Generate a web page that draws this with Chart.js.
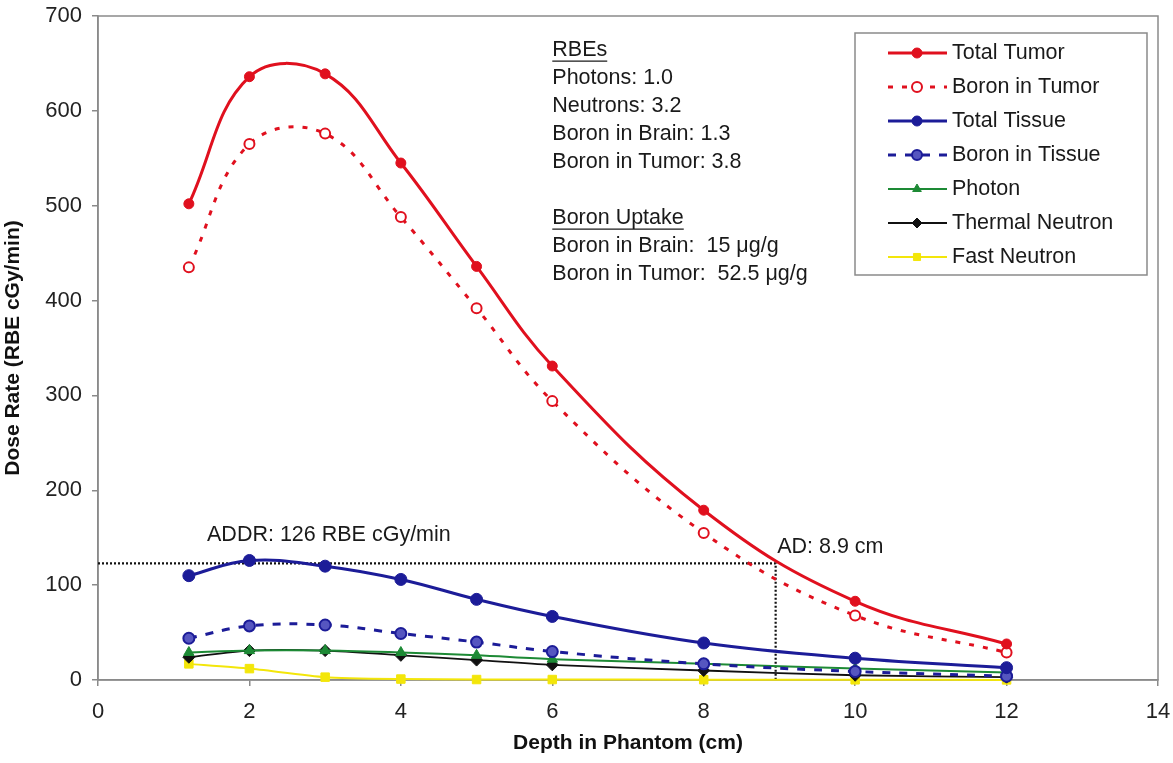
<!DOCTYPE html>
<html>
<head>
<meta charset="utf-8">
<script src="https://cdn.jsdelivr.net/npm/chart.js@4.4.1/dist/chart.umd.min.js"></script>
<style>
  html, body { margin: 0; padding: 0; background: #fff; }
</style>
</head>
<body>
<canvas id="doseChart" width="1173" height="763"></canvas>
<script>
// depth in phantom (cm)
const depth = [1.2, 2, 3, 4, 5, 6, 8, 10, 12];

// dose rates (RBE cGy/min)
const totalTumor    = [502, 636, 639, 545, 436, 331, 179, 83, 38];
const boronTumor    = [435, 565, 576, 488, 392, 294, 155, 68, 29];
const totalTissue   = [110, 126, 120, 106, 85, 67, 39, 23, 13];
const boronTissue   = [44, 57, 58, 49, 40, 30, 17, 9, 4];
const photon        = [29, 31, 31, 29, 26, 22, 17, 12, 8];
const thermal       = [24, 31, 31, 26, 21, 16, 10, 5, 3];
const fastNeutron   = [17, 12, 3, 1, 0.5, 0.5, 0.3, 0.2, 0.1];

// advantage depth / advantage depth dose rate guide lines
const guideX = [0, 8.95, 8.95];
const guideY = [123, 123, 0];

const xTicks = [0, 2, 4, 6, 8, 10, 12, 14];
const yTicks = [0, 100, 200, 300, 400, 500, 600, 700];

const rbeLines = ['RBEs', 'Photons: 1.0', 'Neutrons: 3.2', 'Boron in Brain: 1.3', 'Boron in Tumor: 3.8', '',
                  'Boron Uptake', 'Boron in Brain:  15 \u03BCg/g', 'Boron in Tumor:  52.5 \u03BCg/g'];
const underlined = ['RBEs', 'Boron Uptake'];
const rbeAnchor = [6.0, 664];
const addrText = 'ADDR: 126 RBE cGy/min';
const addrAnchor = [1.44, 153];
const adText = 'AD: 8.9 cm';
const adAnchor = [8.97, 140];

const FONT = '"Liberation Sans", Arial, sans-serif';
const TXT = '21.5px ' + FONT;
const RED = '#e0101e', BLUE = '#1c1c98', GREEN = '#1d8a35', BLACK = '#111111', YELLOW = '#f3e60a';

function pts(ys, xs) {
    xs = xs || depth;
    return xs.map((d, i) => ({ x: d, y: ys[i] }));
}

function series(label, ys, color, extra) {
    return Object.assign({
        label: label,
        data: pts(ys),
        borderColor: color,
        backgroundColor: color,
        pointBackgroundColor: color,
        pointBorderColor: color,
        borderWidth: 3,
        pointRadius: 5,
        pointBorderWidth: 1,
        pointStyle: 'circle',
        tension: 0.4,
        clip: false
    }, extra || {});
}

const datasets = [
    series('Total Tumor', totalTumor, RED),
    series('Boron in Tumor', boronTumor, RED, { borderDash: [5, 9], pointBackgroundColor: '#fff', pointBorderWidth: 2 }),
    series('Total Tissue', totalTissue, BLUE, { pointRadius: 6 }),
    series('Boron in Tissue', boronTissue, BLUE, { borderDash: [8, 9], pointBackgroundColor: '#5656c0', pointBorderWidth: 2, pointRadius: 5.5 }),
    series('Photon', photon, GREEN, { borderWidth: 2, pointStyle: 'triangle', pointRadius: 6, tension: 0.3 }),
    series('Thermal Neutron', thermal, BLACK, { borderWidth: 1.8, pointStyle: 'rectRot', pointRadius: 6, tension: 0.3 }),
    series('Fast Neutron', fastNeutron, YELLOW, { borderWidth: 2, pointStyle: 'rect', pointRadius: 6, tension: 0.2 }),
    {
        label: 'guide',
        data: pts(guideY, guideX),
        borderColor: BLACK,
        borderWidth: 2.2,
        borderDash: [2, 2],
        pointRadius: 0,
        tension: 0,
        clip: false
    }
];

const decorPlugin = {
    id: 'decor',
    beforeDatasetsDraw(chart) {
        const { ctx, chartArea: a } = chart;
        ctx.save();
        ctx.strokeStyle = '#8a8a8a';
        ctx.lineWidth = 1.5;
        ctx.strokeRect(a.left, a.top, a.right - a.left, a.bottom - a.top);
        ctx.restore();
    },
    afterDatasetsDraw(chart) {
        const { ctx, chartArea: a, scales: { x, y } } = chart;
        ctx.save();
        ctx.fillStyle = '#1a1a1a';
        ctx.strokeStyle = '#1a1a1a';
        ctx.font = TXT;
        ctx.textBaseline = 'middle';
        ctx.textAlign = 'left';

        // RBE / uptake notes
        let tx = x.getPixelForValue(rbeAnchor[0]);
        let ty = y.getPixelForValue(rbeAnchor[1]);
        rbeLines.forEach((line, i) => {
            const ly = ty + i * 28;
            ctx.fillText(line, tx, ly);
            if (underlined.includes(line)) {
                const w = ctx.measureText(line).width;
                ctx.lineWidth = 1.3;
                ctx.beginPath();
                ctx.moveTo(tx, ly + 11);
                ctx.lineTo(tx + w, ly + 11);
                ctx.stroke();
            }
        });

        ctx.fillText(addrText, x.getPixelForValue(addrAnchor[0]), y.getPixelForValue(addrAnchor[1]));
        ctx.fillText(adText, x.getPixelForValue(adAnchor[0]), y.getPixelForValue(adAnchor[1]));

        // legend box
        const bx = a.right - 303, by = a.top + 17, bw = 292, bh = 242;
        ctx.fillStyle = '#fff';
        ctx.fillRect(bx, by, bw, bh);
        ctx.strokeStyle = '#8a8a8a';
        ctx.lineWidth = 1.5;
        ctx.strokeRect(bx, by, bw, bh);

        chart.data.datasets.forEach((ds, i) => {
            if (ds.label === 'guide') return;
            const cy = by + 20 + i * 34;
            ctx.save();
            ctx.strokeStyle = ds.borderColor;
            ctx.lineWidth = ds.borderWidth;
            ctx.setLineDash(ds.borderDash || []);
            ctx.beginPath();
            ctx.moveTo(bx + 33, cy);
            ctx.lineTo(bx + 92, cy);
            ctx.stroke();
            ctx.setLineDash([]);
            ctx.fillStyle = ds.pointBackgroundColor;
            ctx.strokeStyle = ds.pointBorderColor;
            ctx.lineWidth = ds.pointBorderWidth;
            Chart.helpers.drawPoint(ctx, {
                pointStyle: ds.pointStyle,
                radius: Math.min(ds.pointRadius, 5),
                borderWidth: ds.pointBorderWidth,
                rotation: 0
            }, bx + 62, cy);
            ctx.restore();
            ctx.fillStyle = '#1a1a1a';
            ctx.font = TXT;
            ctx.textBaseline = 'middle';
            ctx.fillText(ds.label, bx + 97, cy);
        });
        ctx.restore();
    }
};

new Chart(document.getElementById('doseChart').getContext('2d'), {
    type: 'line',
    data: { datasets: datasets },
    plugins: [decorPlugin],
    options: {
        responsive: false,
        animation: false,
        events: [],
        layout: { padding: { left: 0, right: 15, top: 16, bottom: 0 } },
        plugins: {
            legend: { display: false },
            tooltip: { enabled: false }
        },
        scales: {
            x: {
                type: 'linear',
                min: 0,
                max: 14,
                afterFit: s => { s.height = 83; s.paddingLeft = 0; s.paddingRight = 0; },
                afterBuildTicks: s => { s.ticks = xTicks.map(v => ({ value: v })); },
                grid: { display: true, drawOnChartArea: false, drawTicks: true, tickLength: 6, color: '#8a8a8a', lineWidth: 1.5 },
                border: { display: true, color: '#8a8a8a', width: 1.5 },
                ticks: { color: '#222', padding: 13, font: { size: 22, family: FONT } },
                title: {
                    display: true,
                    text: 'Depth in Phantom (cm)',
                    color: '#111',
                    font: { size: 21, weight: 'bold', family: FONT },
                    padding: { top: 0, bottom: 7 }
                }
            },
            y: {
                type: 'linear',
                min: 0,
                max: 700,
                afterFit: s => { s.width = 98; s.paddingTop = 0; s.paddingBottom = 0; },
                afterBuildTicks: s => { s.ticks = yTicks.map(v => ({ value: v })); },
                grid: { display: true, drawOnChartArea: false, drawTicks: true, tickLength: 6, color: '#8a8a8a', lineWidth: 1.5 },
                border: { display: true, color: '#8a8a8a', width: 1.5 },
                ticks: { color: '#222', padding: 10, font: { size: 22, family: FONT } },
                title: {
                    display: true,
                    text: 'Dose Rate (RBE cGy/min)',
                    color: '#111',
                    font: { size: 21, weight: 'bold', family: FONT },
                    padding: { top: 1, bottom: 1 }
                }
            }
        }
    }
});
</script>
</body>
</html>
